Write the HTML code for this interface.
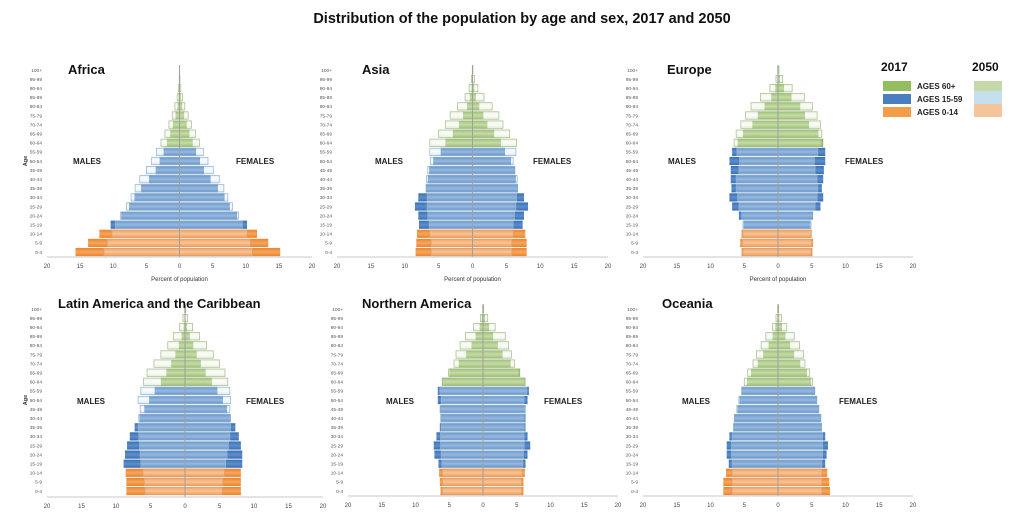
<!DOCTYPE html>
<html><head><meta charset="utf-8">
<style>
html,body{margin:0;padding:0;background:#fff;}
svg{display:block;font-family:"Liberation Sans",sans-serif;}
</style></head>
<body>
<svg id="chart" width="1024" height="526" viewBox="0 0 1024 526">
<defs>
<linearGradient id="gO" x1="0" y1="0" x2="0" y2="1"><stop offset="0" stop-color="#e8842e"/><stop offset="0.5" stop-color="#f7a55c"/><stop offset="1" stop-color="#e8842e"/></linearGradient>
<linearGradient id="gB" x1="0" y1="0" x2="0" y2="1"><stop offset="0" stop-color="#3c6fb0"/><stop offset="0.5" stop-color="#5a8fcf"/><stop offset="1" stop-color="#3c6fb0"/></linearGradient>
<linearGradient id="gG" x1="0" y1="0" x2="0" y2="1"><stop offset="0" stop-color="#85ad55"/><stop offset="0.5" stop-color="#a3c873"/><stop offset="1" stop-color="#85ad55"/></linearGradient>
<linearGradient id="lO" x1="0" y1="0" x2="0" y2="1"><stop offset="0" stop-color="#fbd6b8" stop-opacity="0.35"/><stop offset="0.5" stop-color="#fff0e4" stop-opacity="0.4"/><stop offset="1" stop-color="#f5c29a" stop-opacity="0.4"/></linearGradient>
<linearGradient id="lB" x1="0" y1="0" x2="0" y2="1"><stop offset="0" stop-color="#c4def2" stop-opacity="0.35"/><stop offset="0.5" stop-color="#eef6fc" stop-opacity="0.4"/><stop offset="1" stop-color="#a9cce8" stop-opacity="0.4"/></linearGradient>
<linearGradient id="lG" x1="0" y1="0" x2="0" y2="1"><stop offset="0" stop-color="#d8e6c6" stop-opacity="0.35"/><stop offset="0.5" stop-color="#f5f9ef" stop-opacity="0.4"/><stop offset="1" stop-color="#c4d9a8" stop-opacity="0.4"/></linearGradient>
</defs>
<text x="522" y="23" text-anchor="middle" font-size="14.5" font-weight="bold" fill="#111">Distribution of the population by age and sex, 2017 and 2050</text>
<g>
<text x="881" y="71" font-size="12" font-weight="bold" fill="#111">2017</text>
<text x="972" y="71" font-size="12" font-weight="bold" fill="#111">2050</text>
<rect x="883" y="81" width="28" height="10" fill="#94bd5e"/>
<rect x="883" y="94" width="28" height="10" fill="#4a7ebf"/>
<rect x="883" y="107" width="28" height="10" fill="#f39c4a"/>
<text x="917" y="89" font-size="8" font-weight="bold" fill="#222">AGES 60+</text>
<text x="917" y="102" font-size="8" font-weight="bold" fill="#222">AGES 15-59</text>
<text x="917" y="115" font-size="8" font-weight="bold" fill="#222">AGES 0-14</text>
<rect x="974" y="81" width="28" height="10" fill="#c5d9a8"/>
<rect x="974" y="91" width="28" height="13" fill="#c6dfee"/>
<rect x="974" y="104" width="28" height="13" fill="#f6c49a"/>
</g>
</svg>
<script>
const ageGroups = ["0-4","5-9","10-14","15-19","20-24","25-29","30-34","35-39","40-44","45-49","50-54","55-59","60-64","65-69","70-74","75-79","80-84","85-89","90-94","95-99","100+"];
const xTicks = [20,15,10,5,0,5,10,15,20];
const panelNames = ["Africa","Asia","Europe","Latin America and the Caribbean","Northern America","Oceania"];

const africaM17 = [15.7,13.8,12.1,10.4,8.8,7.6,6.8,5.8,4.6,3.6,3.0,2.4,1.9,1.4,1.0,0.6,0.3,0.15,0.05,0.02,0.01];
const africaF17 = [15.2,13.4,11.7,10.2,8.7,7.6,6.8,5.8,4.7,3.7,3.1,2.5,2.0,1.5,1.1,0.7,0.4,0.2,0.07,0.03,0.01];
const africaM50 = [11.4,10.9,10.2,9.7,8.9,8.0,7.3,6.7,6.0,5.0,4.2,3.5,2.8,2.2,1.6,1.1,0.7,0.35,0.15,0.05,0.02];
const africaF50 = [11.0,10.7,10.2,9.5,8.9,8.0,7.3,6.7,6.0,5.1,4.3,3.6,3.0,2.4,1.8,1.3,0.8,0.45,0.2,0.07,0.03];

const asiaM17 = [8.4,8.3,8.2,7.9,8.0,8.5,8.0,6.9,6.6,6.4,5.8,4.7,4.0,2.9,2.0,1.4,0.8,0.4,0.15,0.05,0.01];
const asiaF17 = [8.0,8.0,7.8,7.4,7.6,8.2,7.6,6.7,6.4,6.3,5.7,4.8,4.2,3.2,2.2,1.6,1.0,0.5,0.25,0.07,0.02];
const asiaM50 = [6.1,6.1,6.3,6.4,6.6,6.7,6.7,6.8,6.8,6.6,6.2,6.3,6.3,5.0,4.0,3.3,2.2,1.1,0.5,0.15,0.03];
const asiaF50 = [5.8,5.8,6.0,6.0,6.2,6.4,6.5,6.6,6.6,6.2,6.0,6.4,6.5,5.5,4.5,3.9,2.9,1.7,0.8,0.3,0.07];

const europeM17 = [5.4,5.6,5.4,5.1,5.8,6.8,7.2,6.9,7.0,7.0,7.2,6.8,6.0,5.2,3.8,3.0,2.0,1.0,0.4,0.1,0.02];
const europeF17 = [5.1,5.2,5.0,4.8,5.2,6.3,6.7,6.5,6.7,6.8,7.0,7.0,6.7,6.0,4.6,4.0,3.3,2.0,0.9,0.3,0.05];
const europeM50 = [5.2,5.3,5.2,5.2,5.4,5.8,6.0,6.2,6.2,5.8,5.7,6.1,6.5,6.2,5.5,4.8,4.0,2.6,1.2,0.3,0.05];
const europeF50 = [4.9,5.0,4.9,4.9,5.1,5.5,5.8,5.9,5.8,5.5,5.4,5.9,6.4,6.5,6.3,5.8,5.1,3.9,2.1,0.7,0.15];

const latamM17 = [8.5,8.5,8.6,8.9,8.7,8.4,8.0,7.3,6.6,5.9,5.2,4.4,3.5,2.7,2.0,1.4,0.9,0.5,0.2,0.07,0.01];
const latamF17 = [8.1,8.1,8.1,8.3,8.3,8.1,7.8,7.3,6.6,6.1,5.5,4.7,3.9,3.0,2.3,1.7,1.2,0.7,0.3,0.1,0.02];
const latamM50 = [5.8,5.9,6.1,6.4,6.5,6.6,6.7,6.8,6.7,6.5,6.8,6.4,6.0,5.5,4.5,3.5,2.5,1.7,0.8,0.3,0.05];
const latamF50 = [5.4,5.5,5.7,5.9,6.1,6.3,6.5,6.6,6.6,6.5,6.6,6.5,6.2,5.8,5.0,4.1,3.1,2.1,1.1,0.4,0.1];

const namerM17 = [6.3,6.4,6.5,6.6,7.2,7.3,6.9,6.4,6.3,6.4,6.7,6.7,6.1,5.0,3.6,2.5,1.7,1.1,0.5,0.2,0.02];
const namerF17 = [6.0,6.0,6.2,6.3,6.6,7.0,6.6,6.3,6.3,6.3,6.6,6.8,6.3,5.5,4.1,2.9,2.2,1.5,0.9,0.3,0.05];
const namerM50 = [6.0,6.0,6.0,6.1,6.2,6.3,6.3,6.2,6.2,6.3,6.2,6.4,6.0,5.1,4.3,4.0,3.4,2.6,1.4,0.4,0.05];
const namerF50 = [5.7,5.7,5.8,5.9,6.0,6.1,6.1,6.1,6.1,6.2,6.1,6.5,6.2,5.3,4.7,4.2,3.8,3.3,1.8,0.7,0.1];

const oceaniaM17 = [8.1,8.1,7.7,7.3,7.6,7.6,7.2,6.6,6.5,6.0,5.7,5.4,4.6,4.0,3.0,2.2,1.4,0.8,0.4,0.1,0.02];
const oceaniaF17 = [7.7,7.6,7.3,7.0,7.2,7.4,7.0,6.5,6.4,6.1,5.8,5.5,4.9,4.3,3.3,2.4,1.8,1.1,0.6,0.2,0.04];
const oceaniaM50 = [6.8,6.8,6.8,6.8,6.9,6.9,6.8,6.6,6.4,6.1,5.8,5.4,5.0,4.5,3.7,3.2,2.5,1.8,0.8,0.3,0.05];
const oceaniaF50 = [6.5,6.5,6.5,6.5,6.6,6.6,6.6,6.4,6.3,6.0,5.7,5.4,5.1,4.7,4.0,3.8,3.2,2.4,1.3,0.5,0.1];

const svg = document.getElementById('chart');
const NS = 'http://www.w3.org/2000/svg';
function mk(tag, attrs, parent){
  const e = document.createElementNS(NS, tag);
  for (const k in attrs) e.setAttribute(k, attrs[k]);
  (parent||svg).appendChild(e);
  return e;
}
const panels = [
  {name:panelNames[0], m17:africaM17, f17:africaF17, m50:africaM50, f50:africaF50, l:47, r:312, y0:252, y20:70, axisY:257, title:[68,74], males:[73,164], females:[236,164], age:true, pct:true},
  {name:panelNames[1], m17:asiaM17, f17:asiaF17, m50:asiaM50, f50:asiaF50, l:337, r:608, y0:252, y20:70, axisY:257, title:[362,74], males:[375,164], females:[533,164], age:false, pct:true},
  {name:panelNames[2], m17:europeM17, f17:europeF17, m50:europeM50, f50:europeF50, l:643, r:913, y0:252, y20:70, axisY:257, title:[667,74], males:[668,164], females:[845,164], age:false, pct:true},
  {name:panelNames[3], m17:latamM17, f17:latamF17, m50:latamM50, f50:latamF50, l:47, r:323, y0:491, y20:309, axisY:497, title:[58,308], males:[77,404], females:[246,404], age:true, pct:false},
  {name:panelNames[4], m17:namerM17, f17:namerF17, m50:namerM50, f50:namerF50, l:348, r:618, y0:491, y20:309, axisY:496, title:[362,308], males:[386,404], females:[544,404], age:false, pct:false},
  {name:panelNames[5], m17:oceaniaM17, f17:oceaniaF17, m50:oceaniaM50, f50:oceaniaF50, l:643, r:913, y0:491, y20:309, axisY:496, title:[662,308], males:[682,404], females:[839,404], age:false, pct:false}
];
function groupIdx(i){ return i<3 ? 0 : (i<12 ? 1 : 2); }
const dark = ['url(#gO)','url(#gB)','url(#gG)'];
const light = ['url(#lO)','url(#lB)','url(#lG)'];
const lightStroke = ['#d9a078','#8fb3cf','#a5b98a'];

panels.forEach(function(p, pi){
  const slug = p.name.toLowerCase().replace(/[^a-z]+/g,'-');
  const g = mk('g', {});
  
  
  const cx = (p.l + p.r)/2;
  const sc = (p.r - p.l)/40;
  const xs = v => v*sc;
  const ys = i => p.y0 + (p.y20 - p.y0)*i/20;
  const bh = 8.2;
  ageGroups.forEach(function(a, i){
    const gi = groupIdx(i);
    const y = ys(i) - bh/2;
    const bm = mk('rect', {x:cx - xs(p.m17[i]), y:y, width:xs(p.m17[i]), height:bh, fill:dark[gi]}, g);
    
    
    const bf = mk('rect', {x:cx, y:y, width:xs(p.f17[i]), height:bh, fill:dark[gi]}, g);
    
    
  });
  ageGroups.forEach(function(a, i){
    const gi = groupIdx(i);
    const y = ys(i) - bh/2 + 0.4;
    const h = bh - 0.8;
    const bm = mk('rect', {x:cx - xs(p.m50[i]), y:y, width:xs(p.m50[i]), height:h, fill:light[gi], stroke:lightStroke[gi], 'stroke-width':0.7}, g);
    
    
    const bf = mk('rect', {x:cx, y:y, width:xs(p.f50[i]), height:h, fill:light[gi], stroke:lightStroke[gi], 'stroke-width':0.7}, g);
    
    
  });
  const cl = mk('line', {x1:cx, x2:cx, y1:ys(20)-5, y2:p.axisY, stroke:'#a0a0a0', 'stroke-width':1}, g);
  
  
  const ax = mk('line', {x1:p.l, x2:p.r, y1:p.axisY, y2:p.axisY, stroke:'#c8c8c8', 'stroke-width':1}, g);
  
  
  xTicks.forEach(function(t, k){
    const signed = k < 4 ? -t : t;
    const tx = mk('text', {x:cx + xs(signed), y:p.axisY+11, 'font-size':6, 'text-anchor':'middle', fill:'#444'}, g);
    tx.textContent = t;
    
    
  });
  ageGroups.forEach(function(a, i){
    const t = mk('text', {x:p.l - 5, y:ys(i)+1.8, 'font-size':4.8, 'text-anchor':'end', fill:'#555'}, g);
    t.textContent = a;
    
    
  });
  const ti = mk('text', {x:p.title[0], y:p.title[1], 'font-size':13, 'font-weight':'bold', fill:'#111'}, g);
  ti.textContent = p.name;
  
  
  const ml = mk('text', {x:p.males[0], y:p.males[1], 'font-size':8, 'font-weight':'bold', fill:'#222'}, g);
  ml.textContent = 'MALES';
  
  
  const fl = mk('text', {x:p.females[0], y:p.females[1], 'font-size':8, 'font-weight':'bold', fill:'#222'}, g);
  fl.textContent = 'FEMALES';
  
  
  if (p.pct){
    const pl = mk('text', {x:cx, y:p.axisY+24, 'font-size':6, 'text-anchor':'middle', fill:'#333'}, g);
    pl.textContent = 'Percent of population';
    
    
  }
  if (p.age){
    const yc = (p.y0 + p.y20)/2;
    const al = mk('text', {x:27, y:yc, 'font-size':5.5, 'font-weight':'bold', 'text-anchor':'middle', fill:'#333', transform:'rotate(-90 27 '+yc+')'}, g);
    al.textContent = 'Age';
    
    
  }
});
</script>
</body></html>
